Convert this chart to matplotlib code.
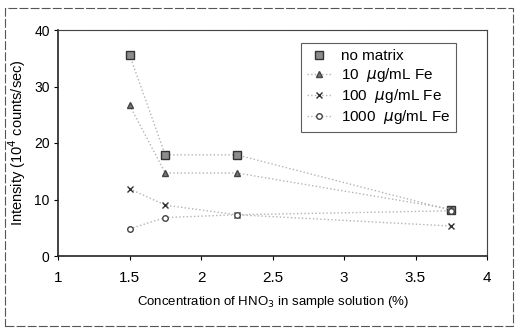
import matplotlib
matplotlib.use('Agg')
import matplotlib.pyplot as plt
from matplotlib.patches import Rectangle

plt.rcParams['font.family'] = ['Liberation Sans', 'DejaVu Sans']

conc = [1.5, 1.75, 2.25, 3.75]
no_matrix = [35.6, 17.9, 17.9, 8.1]
fe_10 = [26.7, 14.7, 14.7, 8.3]
fe_100 = [11.9, 9.0, 7.3, 5.3]
fe_1000 = [4.8, 6.8, 7.3, 8.0]
labels = ['no matrix', '10  $\\mu$g/mL Fe', '100  $\\mu$g/mL Fe', '1000  $\\mu$g/mL Fe']

fig = plt.figure(figsize=(5.21, 3.30), dpi=100)
ax = fig.add_axes([58/521, 1 - 256/330, (487-58)/521, (256-30)/330])

# outer frame of the scanned chart
fig.patches.append(Rectangle((5/521, 4/330), 508/521, 318/330, transform=fig.transFigure,
                             fill=False, edgecolor='#555555', linewidth=0.8, linestyle=(0, (8, 2))))

lc = '#b4b4b4'
ax.plot(conc, no_matrix, linestyle=':', color=lc, lw=1, marker='s', markersize=6,
        markerfacecolor='#8c8c8c', markeredgecolor='#333333', label=labels[0])
ax.plot(conc, fe_10, linestyle=':', color=lc, lw=1, marker='^', markersize=4,
        markerfacecolor='#777777', markeredgecolor='#444444', label=labels[1])
ax.plot(conc, fe_100, linestyle=':', color=lc, lw=1, marker='x', markersize=5,
        markeredgecolor='#333333', label=labels[2])
ax.plot(conc, fe_1000, linestyle=':', color=lc, lw=1, marker='o', markersize=4,
        markerfacecolor='white', markeredgecolor='#444444', label=labels[3])

ax.set_xlim(1, 4)
ax.set_ylim(0, 40)
ax.set_xticks([1, 1.5, 2, 2.5, 3, 3.5, 4])
ax.set_xticklabels(['1', '1.5', '2', '2.5', '3', '3.5', '4'])
ax.set_yticks([0, 10, 20, 30, 40])
ax.tick_params(axis='both', labelsize=11, length=3, direction='out', pad=8)
ax.tick_params(axis='y', pad=3, labelsize=10)
for s in ['left', 'bottom']:
    ax.spines[s].set_linewidth(1.2)
    ax.spines[s].set_color('#222222')
for s in ['top', 'right']:
    ax.spines[s].set_linewidth(0.8)
    ax.spines[s].set_color('#444444')
    ax.spines[s].set_linestyle((0, (1, 0.5)))

ax.set_xlabel('Concentration of HNO$_3$ in sample solution (%)', fontsize=9.5, labelpad=6)
ax.set_ylabel('Intensity (10$^4$ counts/sec)', fontsize=10.5, labelpad=4)

leg = ax.legend(loc='upper right', bbox_to_anchor=(456/521, 1 - 43/330), bbox_transform=fig.transFigure,
                fontsize=11, frameon=True, fancybox=False, handlelength=1.6, handletextpad=0.6,
                labelspacing=0.2, borderpad=0.4, borderaxespad=0)
leg.get_frame().set_edgecolor('#333333')
leg.get_frame().set_linewidth(0.8)
leg.legend_handles[0].set_linestyle('None')

fig.savefig('out.png', dpi=100)
